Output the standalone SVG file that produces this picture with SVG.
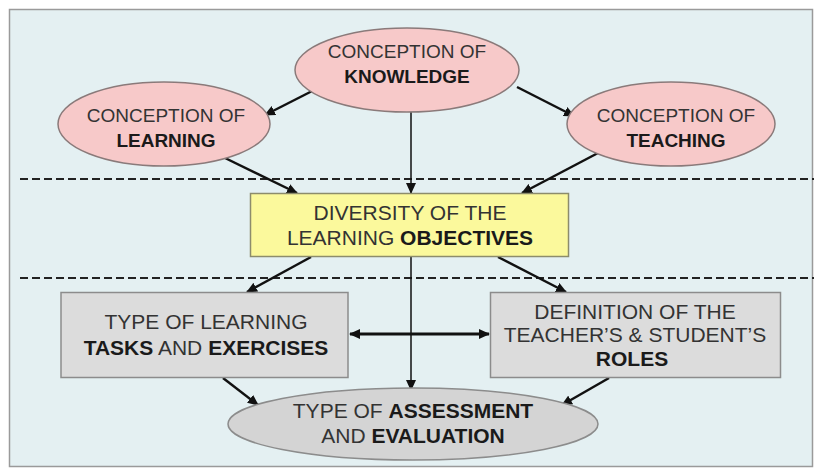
<svg xmlns="http://www.w3.org/2000/svg" width="814" height="475" viewBox="0 0 814 475">
<defs>
<marker id="ah" markerUnits="userSpaceOnUse" markerWidth="12" markerHeight="10" refX="10" refY="5" orient="auto">
<path d="M0,0 L11,5 L0,10 Z" fill="#111"/>
</marker>
<marker id="ahs" markerUnits="userSpaceOnUse" markerWidth="12" markerHeight="10" refX="1" refY="5" orient="auto">
<path d="M11,0 L0,5 L11,10 Z" fill="#111"/>
</marker>
<style>
.t{font-family:"Liberation Sans",Arial,sans-serif;font-size:21px;fill:#333;text-anchor:middle}
.s{font-size:19px}
.b{font-weight:bold;fill:#1a1a1a}
.pink{fill:#f7c9c9;stroke:#8a7a7a;stroke-width:1.5}
.gbox{fill:#dcdcdc;stroke:#8c8c8c;stroke-width:1.5}
.c{stroke:#111;stroke-width:2.5;fill:none}
.dash{stroke:#222;stroke-width:2;stroke-dasharray:8,4;fill:none}
</style>
</defs>
<rect x="9.5" y="9.5" width="803" height="457" fill="#e4f0f2" stroke="#9a9a9a" stroke-width="1.5"/>
<g id="separators">
<line class="dash" x1="20" y1="179" x2="814" y2="179"/>
<line class="dash" x1="20" y1="278" x2="814" y2="278"/>
</g>
<g id="connectors">
<line class="c" x1="322" y1="86" x2="265" y2="115" marker-end="url(#ah)"/>
<line class="c" x1="517" y1="87" x2="574" y2="116" marker-end="url(#ah)"/>
<line class="c" x1="223" y1="157" x2="297" y2="193" marker-end="url(#ah)"/>
<line class="c" x1="598" y1="153" x2="522" y2="193" marker-end="url(#ah)"/>
<line class="c" style="stroke-width:1.5" x1="411" y1="112" x2="411" y2="193" marker-end="url(#ah)"/>
<line class="c" x1="311" y1="257" x2="247" y2="292" marker-end="url(#ah)"/>
<line class="c" x1="498" y1="257" x2="566" y2="292" marker-end="url(#ah)"/>
<line class="c" style="stroke-width:1.5" x1="411" y1="257" x2="411" y2="390" marker-end="url(#ah)"/>
<line class="c" style="stroke-width:3" x1="350" y1="334" x2="489" y2="334" marker-start="url(#ahs)" marker-end="url(#ah)"/>
<line class="c" x1="223" y1="378" x2="258" y2="405" marker-end="url(#ah)"/>
<line class="c" x1="609" y1="378" x2="562" y2="405" marker-end="url(#ah)"/>
</g>
<g id="knowledge">
<ellipse class="pink" cx="407" cy="70" rx="112" ry="42"/>
<text class="t s" x="407" y="58">CONCEPTION OF</text>
<text class="t s b" x="407" y="83">KNOWLEDGE</text>
</g>
<g id="learning">
<ellipse class="pink" cx="164" cy="124" rx="106" ry="42"/>
<text class="t s" x="166" y="122">CONCEPTION OF</text>
<text class="t s b" x="166" y="147">LEARNING</text>
</g>
<g id="teaching">
<ellipse class="pink" cx="671" cy="124" rx="104" ry="42"/>
<text class="t s" x="676" y="122">CONCEPTION OF</text>
<text class="t s b" x="676" y="147">TEACHING</text>
</g>
<g id="objectives">
<rect x="250.5" y="193.5" width="318" height="63" fill="#fbf99c" stroke="#8c8c6c" stroke-width="1.5"/>
<text class="t" x="410" y="220">DIVERSITY OF THE</text>
<text class="t" x="410" y="245">LEARNING <tspan class="b">OBJECTIVES</tspan></text>
</g>
<g id="tasks">
<rect class="gbox" x="61" y="292.5" width="287" height="85"/>
<text class="t" x="206" y="329">TYPE OF LEARNING</text>
<text class="t" x="206" y="355"><tspan class="b">TASKS</tspan> AND <tspan class="b">EXERCISES</tspan></text>
</g>
<g id="roles">
<rect class="gbox" x="490.5" y="292.5" width="290" height="85"/>
<text class="t" x="635" y="319">DEFINITION OF THE</text>
<text class="t" x="635" y="342">TEACHER’S &amp; STUDENT’S</text>
<text class="t b" x="632" y="366">ROLES</text>
</g>
<g id="assessment">
<ellipse cx="413" cy="424" rx="185" ry="36" fill="#d4d4d4" stroke="#8c8c8c" stroke-width="1.5"/>
<text class="t" x="413" y="418">TYPE OF <tspan class="b">ASSESSMENT</tspan></text>
<text class="t" x="413" y="443">AND <tspan class="b">EVALUATION</tspan></text>
</g>
</svg>
